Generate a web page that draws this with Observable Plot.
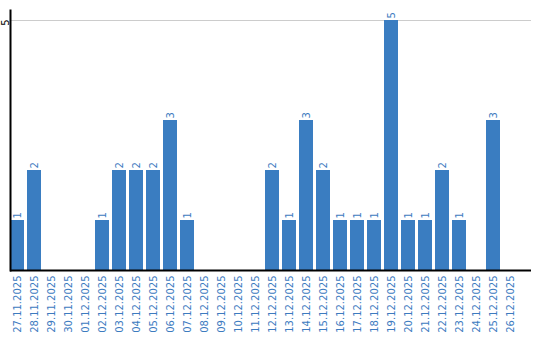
<!DOCTYPE html>
<html><head><meta charset="utf-8">
<script src="https://cdn.jsdelivr.net/npm/d3@7"></script>
<script src="https://cdn.jsdelivr.net/npm/@observablehq/plot@0.6"></script>
<style>body{margin:0;background:#fff;font-family:"DejaVu Sans",sans-serif}</style>
</head><body><div id="chart"></div>
<script>
const dates = ["27.11.2025","28.11.2025","29.11.2025","30.11.2025","01.12.2025","02.12.2025","03.12.2025","04.12.2025","05.12.2025","06.12.2025","07.12.2025","08.12.2025","09.12.2025","10.12.2025","11.12.2025","12.12.2025","13.12.2025","14.12.2025","15.12.2025","16.12.2025","17.12.2025","18.12.2025","19.12.2025","20.12.2025","21.12.2025","22.12.2025","23.12.2025","24.12.2025","25.12.2025","26.12.2025"];
const counts = [1,2,0,0,0,1,2,2,2,3,1,0,0,0,0,2,1,3,2,1,1,1,5,1,1,2,1,0,3,0];
const yTicks = [5];

const data = dates.map((d,i)=>({date:d, value:counts[i]}));
const blue = "#3a7dc1";
const textBlue = "#3d7bbf";

const chart = Plot.plot({
  width: 540, height: 340,
  marginLeft: 10, marginRight: 9, marginTop: 10, marginBottom: 70,
  style: {fontFamily: "DejaVu Sans", fontSize: "10px", background: "#fff"},
  x: {domain: dates, range: [10, 517], paddingInner: 3/17, paddingOuter: 0, align: 0, label: null},
  y: {domain: [0, 5], range: [270, 20], label: null},
  marks: [
    Plot.gridY(yTicks, {stroke: "#cccccc", strokeOpacity: 1}),
    Plot.barY(data, {x: "date", y: "value", fill: blue}),
    Plot.text(data.filter(d=>d.value>0), {x: "date", y: "value", text: d=>String(d.value), rotate: -90, textAnchor: "start", lineAnchor: "middle", dy: -2, fill: textBlue}),
    Plot.axisX({tickSize: 0, tickPadding: 5, rotate: -90, textAnchor: "end", lineAnchor: "middle", fill: textBlue, label: null}),
    Plot.axisY({ticks: yTicks, tickFormat: d3.format("d"), tickSize: 0, tickPadding: 2, rotate: -90, textAnchor: "middle", lineAnchor: "bottom", dy: 2, label: null, fill: "#000"}),
    Plot.ruleY([0], {stroke: "#000", strokeWidth: 2}),
    Plot.frame({anchor: "left", stroke: "#000", strokeWidth: 2})
  ]
});
document.getElementById("chart").appendChild(chart);
</script></body></html>
